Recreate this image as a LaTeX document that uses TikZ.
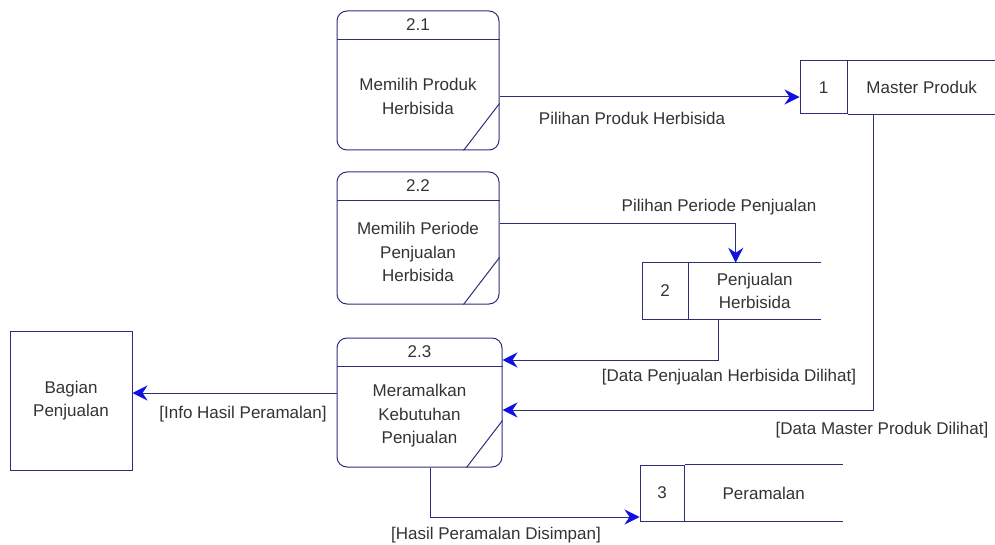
\documentclass[tikz,border=0pt]{standalone}
\usepackage{fontspec}
\setmainfont{Liberation Sans}
\usepackage{tikz}
\usetikzlibrary{arrows.meta,positioning,calc}
\definecolor{dfdline}{HTML}{2B2F7A}
\definecolor{dfdhead}{HTML}{1010E0}
\definecolor{dfdtext}{HTML}{333333}
\newcommand{\dfdfont}{\fontsize{17}{23.5}\selectfont}
\tikzset{
  proc/.style={draw=dfdline, line width=1pt, rounded corners=10pt, minimum width=162pt, inner sep=0pt},
  ptxt/.style={align=center, text=dfdtext, font=\dfdfont, inner sep=0pt},
  sid/.style={draw=dfdline, line width=1pt, inner sep=0pt, text=dfdtext, font=\dfdfont},
  sname/.style={inner sep=0pt, align=center, text=dfdtext, font=\dfdfont},
  ext/.style={draw=dfdline, line width=1pt, minimum width=122pt, minimum height=139pt, align=center, text=dfdtext, font=\dfdfont},
  flow/.style={-{Stealth[length=15pt, width=15pt, inset=5pt, color=dfdhead, line width=1pt]}, line width=1pt, color=dfdline},
  sep/.style={draw=dfdline, line width=1pt},
  lbl/.style={text=dfdtext, font=\dfdfont, inner sep=0pt},
}

\begin{document}
\begin{tikzpicture}[x=1pt, y=1pt]
    \useasboundingbox (0,0) rectangle (995,544);
    % processes
    \node[proc, minimum height=139pt] (p21) at (418,463.5) {};
    \node[proc, minimum height=132pt] (p22) at (418,306) {};
    \node[proc, minimum height=129pt, minimum width=165pt] (p23) at (419.5,141.5) {};
    \foreach \p/\n in {p21/2.1,p22/2.2,p23/2.3} {
      \draw[sep] ([yshift=-29pt]\p.north west) -- ([yshift=-29pt]\p.north east);
      \draw[sep] ([xshift=-36pt]\p.south east) -- ([yshift=47pt]\p.south east);
      \node[ptxt] (\p n) at ([yshift=-14.5pt]\p.north) {\n};
    }
    \node[ptxt] (p21t) at ([yshift=-16pt]p21.center) {Memilih Produk\\Herbisida};
    \node[ptxt] (p22t) at ([yshift=-14pt]p22.center) {Memilih Periode\\Penjualan\\Herbisida};
    \node[ptxt] (p23t) at ([yshift=-13.5pt]p23.center) {Meramalkan\\Kebutuhan\\Penjualan};
    % external entity
    \node[ext] (bp) at (71,143.5) {Bagian\\Penjualan};
    % data stores
    \node[sid, minimum width=47pt, minimum height=53pt] (d1) at (823.5,456.5) {1};
    \node[sname, minimum width=148pt, minimum height=53pt, right=0pt of d1] (d1n) {Master Produk};
    \node[sid, minimum width=46pt, minimum height=56pt] (d2) at (665,253) {2};
    \node[sname, minimum width=132pt, minimum height=56pt, right=0pt of d2] (d2n) {Penjualan\\Herbisida};
    \node[sid, minimum width=44pt, minimum height=56pt] (d3) at (662,51) {3};
    \node[sname, minimum width=158pt, minimum height=56pt, right=0pt of d3] (d3n) {Peramalan};
    \foreach \s in {d1n,d2n,d3n} {
      \draw[sep] (\s.north west) -- (\s.north east);
      \draw[sep] (\s.south west) -- (\s.south east);
    }
    % flows
    \draw[flow] ([yshift=-16.5pt]p21.east) -- ([yshift=-9.5pt]d1.west);
    \draw[flow] ([yshift=14pt]p22.east) -| ([xshift=-19pt]d2n.north);
    \draw[flow] ([xshift=-36pt]d2n.south) |- ([yshift=42.5pt]p23.east);
    \draw[flow] ([xshift=-48pt]d1n.south) |- ([yshift=-7.5pt]p23.east);
    \draw[flow] ([yshift=9.5pt]p23.west) -- ([yshift=7.5pt]bp.east);
    \draw[flow] ([xshift=10.5pt]p23.south) |- ([yshift=-24pt]d3.west);
    % flow labels
    \node[lbl] (l1) at (632,426) {Pilihan Produk Herbisida};
    \node[lbl] (l2) at (719,337) {Pilihan Periode Penjualan};
    \node[lbl] (l3) at (729,167) {[Data Penjualan Herbisida Dilihat]};
    \node[lbl] (l4) at (882,114) {[Data Master Produk Dilihat]};
    \node[lbl] (l5) at (243,130) {[Info Hasil Peramalan]};
    \node[lbl] (l6) at (496,9) {[Hasil Peramalan Disimpan]};
  \end{tikzpicture}
\end{document}
